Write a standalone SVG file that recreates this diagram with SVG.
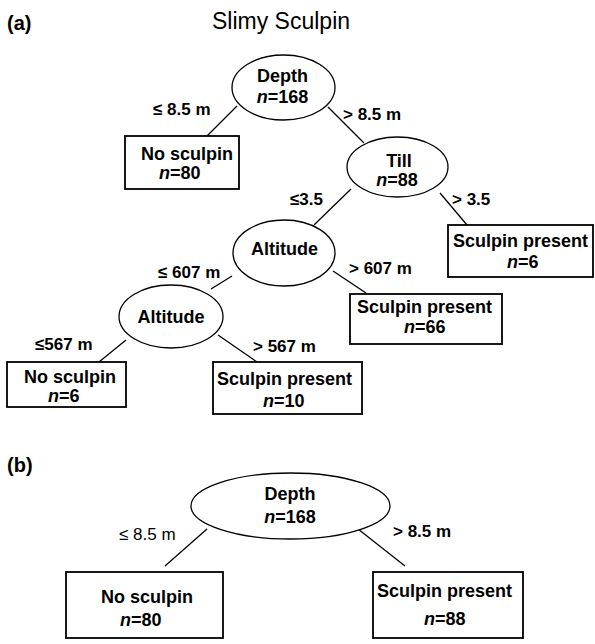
<svg xmlns="http://www.w3.org/2000/svg" width="595" height="644" viewBox="0 0 595 644">
<style>
text{font-family:"Liberation Sans",Arial,Helvetica,sans-serif;fill:#000}
.t{font-size:18px;font-weight:bold}
.e{font-size:17px;font-weight:bold}
.en{font-size:17px;font-weight:normal}
.i{font-style:italic}
.box{fill:#fff;stroke:#000;stroke-width:1.8}
.ell{fill:#fff;stroke:#000;stroke-width:1.3}
.con line{stroke:#000;stroke-width:1.3}
</style>
<rect width="595" height="644" fill="#fff"/>
<text x="7" y="30" style="font-size:20px;font-weight:bold">(a)</text>
<text x="212" y="29" style="font-size:23px">Slimy Sculpin</text>
<text x="7" y="472" style="font-size:20px;font-weight:bold">(b)</text>

<g id="connectors" class="con">
<line x1="237" y1="106" x2="207" y2="136"/>
<line x1="328" y1="107" x2="364" y2="143"/>
<line x1="351" y1="189" x2="314" y2="225"/>
<line x1="440" y1="193" x2="467" y2="225"/>
<line x1="333" y1="271" x2="366" y2="293"/>
<line x1="232" y1="276" x2="211" y2="289"/>
<line x1="126" y1="340" x2="99" y2="362"/>
<line x1="218" y1="335" x2="257" y2="362"/>
<line x1="207" y1="529" x2="165" y2="566"/>
<line x1="358" y1="529" x2="405" y2="566"/>
</g>

<g id="edge-labels">
<text class="e" x="153" y="115">≤ 8.5 m</text>
<text class="e" x="343" y="120">&gt; 8.5 m</text>
<text class="e" x="290" y="205">≤3.5</text>
<text class="e" x="452" y="205">&gt; 3.5</text>
<text class="e" x="158" y="278">≤ 607 m</text>
<text class="e" x="349" y="274">&gt; 607 m</text>
<text class="e" x="35" y="350">≤567 m</text>
<text class="e" x="253" y="352">&gt; 567 m</text>
<text class="en" x="119" y="540">≤ 8.5 m</text>
<text class="e" x="393" y="537">&gt; 8.5 m</text>
</g>

<g id="a-depth">
<ellipse class="ell" cx="283.5" cy="87.5" rx="51.5" ry="32.5"/>
<text class="t" x="282.5" y="82" text-anchor="middle">Depth</text>
<text class="t" x="282.5" y="103" text-anchor="middle"><tspan class="i">n</tspan>=168</text>
</g>
<g id="a-noscul80">
<rect class="box" x="125" y="136" width="114" height="53"/>
<text class="t" x="141" y="160">No sculpin</text>
<text class="t" x="159" y="179"><tspan class="i">n</tspan>=80</text>
</g>
<g id="a-till">
<ellipse class="ell" cx="397.5" cy="167" rx="50.5" ry="30"/>
<text class="t" x="399" y="167" text-anchor="middle">Till</text>
<text class="t" x="397" y="186" text-anchor="middle"><tspan class="i">n</tspan>=88</text>
</g>
<g id="a-present6">
<rect class="box" x="448" y="225" width="145" height="52"/>
<text class="t" x="453" y="247">Sculpin present</text>
<text class="t" x="507" y="268"><tspan class="i">n</tspan>=6</text>
</g>
<g id="a-altitude1">
<ellipse class="ell" cx="284" cy="253" rx="51" ry="33"/>
<text class="t" x="284.5" y="255" text-anchor="middle">Altitude</text>
</g>
<g id="a-present66">
<rect class="box" x="350" y="294" width="152" height="50"/>
<text class="t" x="357" y="313">Sculpin present</text>
<text class="t" x="404" y="333"><tspan class="i">n</tspan>=66</text>
</g>
<g id="a-altitude2">
<ellipse class="ell" cx="171" cy="316.5" rx="52" ry="31.5"/>
<text class="t" x="171" y="323" text-anchor="middle">Altitude</text>
</g>
<g id="a-noscul6">
<rect class="box" x="7" y="362" width="119" height="45"/>
<text class="t" x="24" y="383">No sculpin</text>
<text class="t" x="48" y="402"><tspan class="i">n</tspan>=6</text>
</g>
<g id="a-present10">
<rect class="box" x="213" y="362" width="149" height="52"/>
<text class="t" x="217" y="385">Sculpin present</text>
<text class="t" x="263" y="407"><tspan class="i">n</tspan>=10</text>
</g>

<g id="b-depth">
<ellipse class="ell" cx="290.5" cy="506" rx="99.5" ry="33"/>
<text class="t" x="290" y="500" text-anchor="middle">Depth</text>
<text class="t" x="290" y="523" text-anchor="middle"><tspan class="i">n</tspan>=168</text>
</g>
<g id="b-noscul80">
<rect class="box" x="66" y="572" width="157" height="66"/>
<text class="t" x="101" y="603">No sculpin</text>
<text class="t" x="120" y="626"><tspan class="i">n</tspan>=80</text>
</g>
<g id="b-present88">
<rect class="box" x="373" y="572" width="150" height="66"/>
<text class="t" x="377" y="597">Sculpin present</text>
<text class="t" x="424" y="625"><tspan class="i">n</tspan>=88</text>
</g>
</svg>
